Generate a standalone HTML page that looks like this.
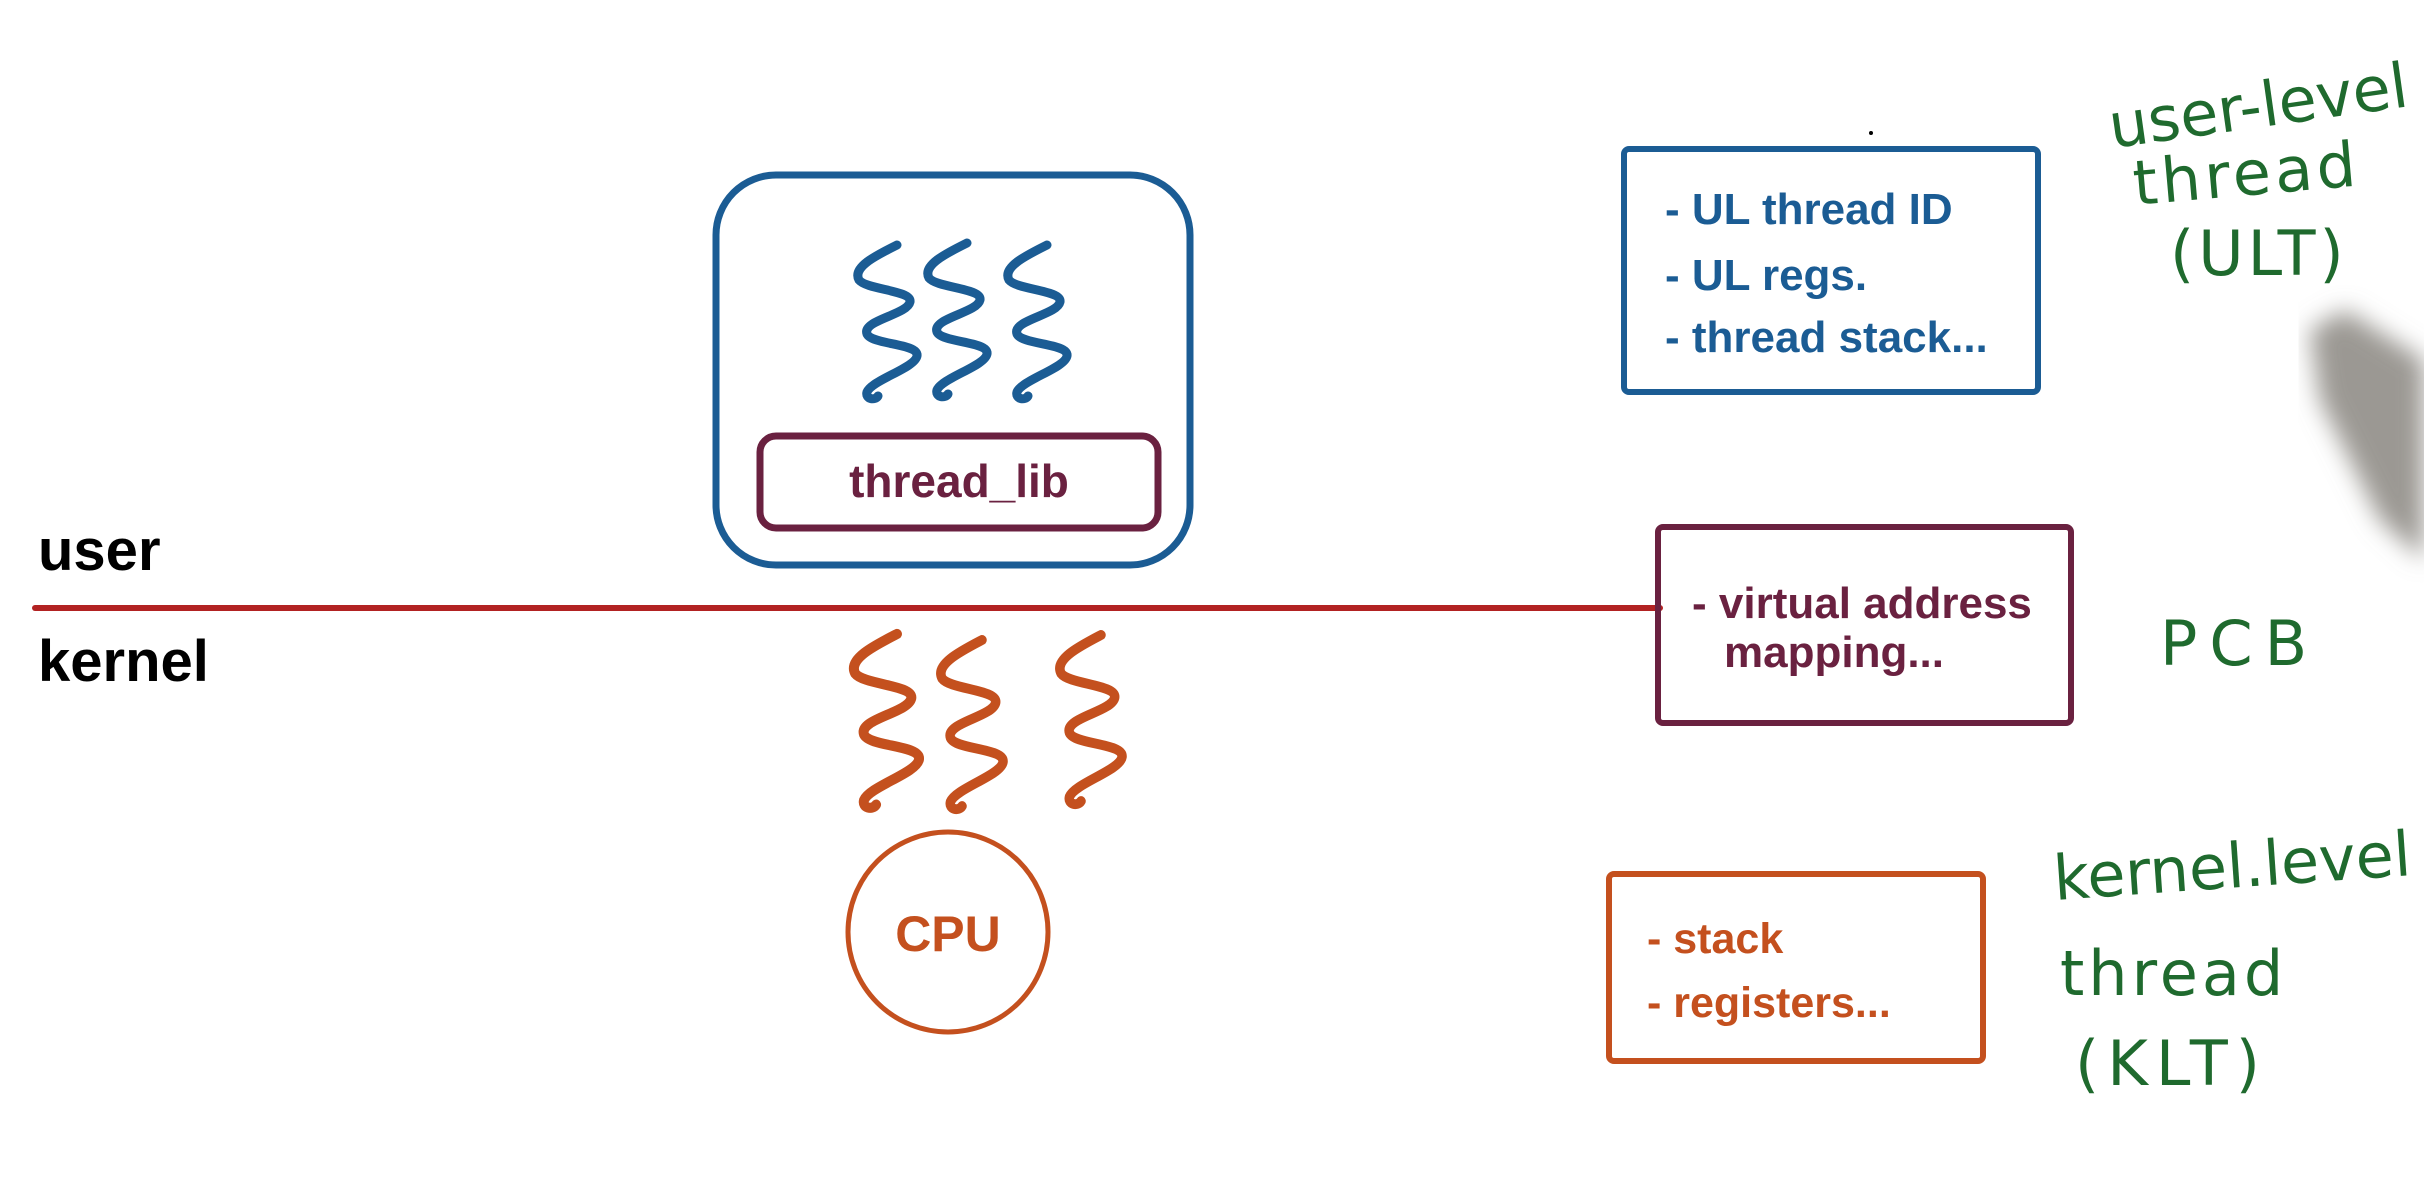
<!DOCTYPE html>
<html><head><meta charset="utf-8"><style>
html,body{margin:0;padding:0;background:#fff;}
body{width:2424px;height:1180px;overflow:hidden;position:relative;}
svg{position:absolute;left:0;top:0;}
</style></head><body>
<svg width="2424" height="1180" viewBox="0 0 2424 1180" xmlns="http://www.w3.org/2000/svg">
<defs>
<path id="sq" d="M0 0 C-20 10 -45 22 -38 35 C-30 45 15 45 13 57 C10 70 -35 75 -30 89 C-25 100 22 98 20 111 C18 123 -25 135 -30 147 C-32 154 -22 156 -19 151" fill="none" stroke-linecap="round" stroke-linejoin="round"/>
<filter id="blur"><feGaussianBlur stdDeviation="12"/></filter>
</defs>
<rect x="0" y="0" width="2424" height="1180" fill="#fff"/>
<g filter="url(#blur)">
<polygon points="2310,330 2345,310 2424,360 2424,560 2380,520 2320,400" fill="#8a8680" opacity="0.85"/>
</g>
<rect x="716" y="175" width="474" height="390" rx="60" fill="none" stroke="#1b5c94" stroke-width="7"/>
<rect x="760" y="436" width="398" height="92" rx="16" fill="none" stroke="#6a2140" stroke-width="7"/>
<text x="959" y="497" font-family="Liberation Sans, sans-serif" font-weight="bold" font-size="46" fill="#6a2140" text-anchor="middle">thread_lib</text>
<g stroke="#1b5c94" stroke-width="9">
<use href="#sq" transform="translate(897,245)"/>
<use href="#sq" transform="translate(967,243)"/>
<use href="#sq" transform="translate(1047,245)"/>
</g>
<line x1="35" y1="608" x2="1660" y2="608" stroke="#b22222" stroke-width="6" stroke-linecap="round"/>
<text x="38" y="570" font-family="Liberation Sans, sans-serif" font-weight="bold" font-size="58" fill="#000">user</text>
<text x="38" y="681" font-family="Liberation Sans, sans-serif" font-weight="bold" font-size="58" fill="#000">kernel</text>
<g stroke="#c4501e" stroke-width="9">
<use href="#sq" transform="translate(897,634) scale(1.1,1.13)"/>
<use href="#sq" transform="translate(982,640) scale(1.05,1.1)"/>
<use href="#sq" transform="translate(1101,635) scale(1.05,1.1)"/>
</g>
<circle cx="948" cy="932" r="100" fill="none" stroke="#c4501e" stroke-width="5"/>
<text x="948" y="951" font-family="Liberation Sans, sans-serif" font-weight="bold" font-size="50" fill="#c4501e" text-anchor="middle">CPU</text>
<rect x="1624" y="149" width="414" height="243" rx="5" fill="none" stroke="#1b5c94" stroke-width="6"/>
<g font-family="Liberation Sans, sans-serif" font-weight="bold" font-size="44" fill="#1b5c94">
<text x="1665" y="224">- UL thread ID</text>
<text x="1665" y="290">- UL regs.</text>
<text x="1665" y="352">- thread stack...</text>
</g>
<rect x="1658" y="527" width="413" height="196" rx="5" fill="none" stroke="#6a2140" stroke-width="6"/>
<g font-family="Liberation Sans, sans-serif" font-weight="bold" font-size="44" fill="#6a2140">
<text x="1692" y="618">- virtual address</text>
<text x="1724" y="667">mapping...</text>
</g>
<rect x="1609" y="874" width="374" height="187" rx="5" fill="none" stroke="#c4501e" stroke-width="6"/>
<g font-family="Liberation Sans, sans-serif" font-weight="bold" font-size="43" fill="#c4501e">
<text x="1647" y="953">- stack</text>
<text x="1647" y="1017">- registers...</text>
</g>
<g font-family="DejaVu Sans, sans-serif" font-size="62" fill="#1f6a2e">
<text x="2112" y="148" transform="rotate(-8 2112 148)">user-level</text>
<text x="2135" y="205" transform="rotate(-5 2135 205)" letter-spacing="4">thread</text>
<text x="2170" y="275" letter-spacing="4">(ULT)</text>
<text x="2160" y="665" letter-spacing="12">PCB</text>
<text x="2055" y="900" transform="rotate(-4 2055 900)">kernel.level</text>
<text x="2060" y="995" letter-spacing="4">thread</text>
<text x="2075" y="1085" letter-spacing="8">(KLT)</text>
</g>
<circle cx="1871" cy="133" r="2" fill="#000"/>
</svg>
</body></html>
